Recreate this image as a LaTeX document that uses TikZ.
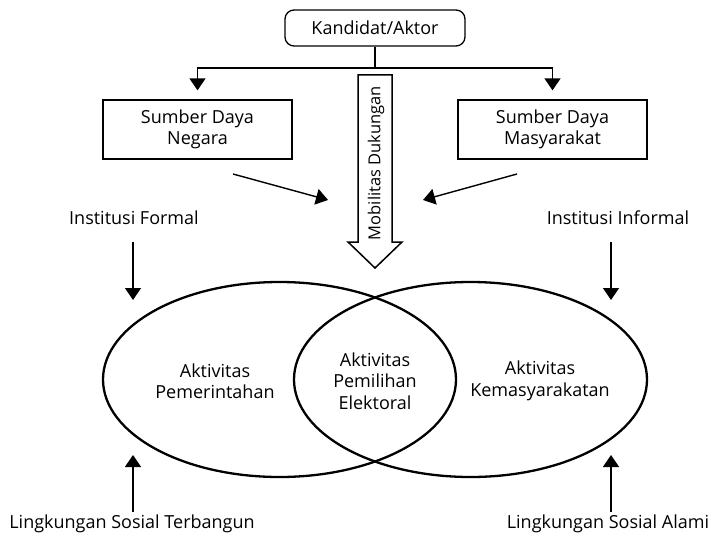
\documentclass[tikz,border=0pt]{standalone}
\usepackage{fontspec}
\setmainfont{Open Sans}
\usetikzlibrary{arrows.meta,shapes.geometric}
\begin{document}
\begin{tikzpicture}[x=1pt,y=-1pt,
  lbl/.style={font=\fontsize{18}{21.5}\selectfont, align=center, inner sep=0pt, text=black},
  srcbox/.style={draw, line width=1.3pt, minimum width=189pt, minimum height=59pt, lbl},
  actorbox/.style={draw, line width=1.3pt, rounded corners=9pt, minimum width=180pt, minimum height=36pt, lbl},
  venn/.style={draw, ellipse, line width=2.3pt, minimum width=353pt, minimum height=195pt, inner sep=0pt},
  conn/.style={line width=1.4pt, -{Triangle[length=12pt,width=16pt]}},
  plainline/.style={line width=1.4pt},
  bigarrow/.style={draw, line width=1.5pt, fill=white, line join=miter}
]
\useasboundingbox (0,0) rectangle (711,537);

% top actor and sources
\node[actorbox] (kand) at (375,28) {Kandidat/Aktor};
\node[srcbox] (neg) at (197.5,129.5) {Sumber Daya\\Negara};
\node[srcbox] (mas) at (552.5,129.5) {Sumber Daya\\Masyarakat};
\coordinate (split) at (375,68);
\draw[plainline] (kand.south) -- (split);
\draw[conn, shorten >=9pt] (split) -| (neg.north);
\draw[conn, shorten >=9pt] (split) -| (mas.north);

% big hollow arrow
\draw[bigarrow] (358,75) -- (392,75) -- (392,242) -- (402,242) -- (375,268) -- (348,242) -- (358,242) -- cycle;
\node[lbl, font=\fontsize{16.5}{19}\selectfont, rotate=90] (mob) at (376,163) {Mobilitas Dukungan};

% diagonal arrows
\coordinate (dl0) at (233,174);
\coordinate (dl1) at (328,200);
\coordinate (dr0) at (517,174);
\coordinate (dr1) at (423,200);
\draw[conn] (dl0) -- (dl1);
\draw[conn] (dr0) -- (dr1);

% Venn ellipses
\node[venn] (gov) at (279.5,379.5) {};
\node[venn] (soc) at (470.5,379.5) {};
\node[lbl] (tgov) at (215,381) {Aktivitas\\Pemerintahan};
\node[lbl] (tmid) at (375,381) {Aktivitas\\Pemilihan\\Elektoral};
\node[lbl] (tsoc) at (540,381) {Aktivitas\\Kemasyarakatan};

% institutions
\node[lbl] (if) at (134,218) {Institusi Formal};
\node[lbl] (ii) at (618,218) {Institusi Informal};
\coordinate (ifend) at (133,300);
\coordinate (iiend) at (611,300);
\draw[conn] (ifend |- 0,242) -- (ifend);
\draw[conn] (iiend |- 0,242) -- (iiend);

% environments
\node[lbl] (lt) at (132,524) {Lingkungan Sosial Terbangun};
\node[lbl] (la) at (608,524) {Lingkungan Sosial Alami};
\coordinate (ltend) at (133,455);
\coordinate (laend) at (611,455);
\draw[conn] (ltend |- 0,512) -- (ltend);
\draw[conn] (laend |- 0,512) -- (laend);
\end{tikzpicture}
\end{document}
